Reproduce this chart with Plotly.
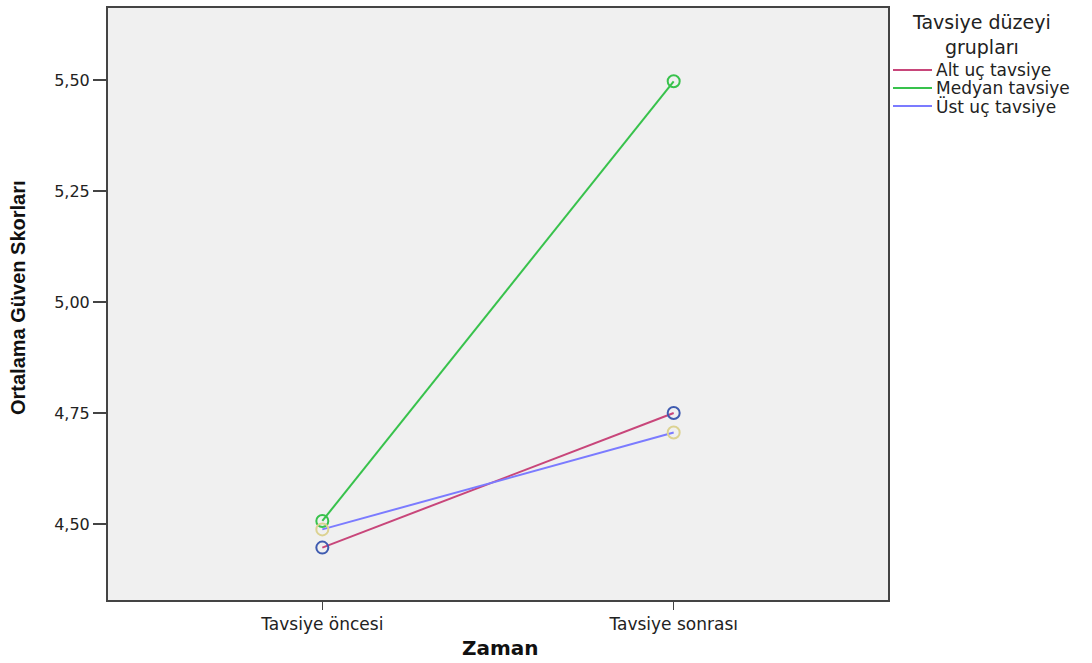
import plotly.graph_objects as go

categories = ["Tavsiye öncesi", "Tavsiye sonrası"]
groups = ["Alt uç tavsiye", "Medyan tavsiye", "Üst uç tavsiye"]
alt_uc = [4.447, 4.750]
medyan = [4.507, 5.497]
ust_uc = [4.488, 4.706]
series = [alt_uc, medyan, ust_uc]
y_ticks = [4.5, 4.75, 5.0, 5.25, 5.5]
y_tick_labels = ["4,50", "4,75", "5,00", "5,25", "5,50"]
legend_title = "Tavsiye düzeyi<br>grupları"

line_colors = ["#c8467a", "#38c24c", "#7b7bff"]
marker_colors = ["#3f5bb0", "#38c24c", "#dcd291"]

TXT = "#222222"
BASE = "DejaVu Sans, Verdana, sans-serif"

fig = go.Figure()
for name, vals, lc in zip(groups, series, line_colors):
    fig.add_trace(go.Scatter(x=categories, y=vals, mode="lines", name=name,
                             line=dict(color=lc, width=2)))
for name, vals, mc in zip(groups, series, marker_colors):
    fig.add_trace(go.Scatter(x=categories, y=vals, mode="markers", name=name,
                             marker=dict(symbol="circle-open", size=12, color=mc,
                                         line=dict(width=2, color=mc))))

# custom legend (SPSS style: line keys, tight rows)
L, R, T, B = 108, 204, 8, 63
W, H = 1092, 663
pw, ph = W - L - R, H - T - B

def px_x(x):
    return (x - L) / pw

def px_y(y):
    return 1 - (y - T) / ph

shapes = []
annotations = [dict(text=legend_title, x=px_x(981), y=px_y(34), xref="paper", yref="paper",
                    xanchor="center", yanchor="middle", showarrow=False, align="center",
                    font=dict(family=BASE, size=19, color=TXT))]
for i, (name, lc) in enumerate(zip(groups, line_colors)):
    yy = 70 + 18 * i
    shapes.append(dict(type="line", xref="paper", yref="paper",
                       x0=px_x(893), x1=px_x(932), y0=px_y(yy), y1=px_y(yy),
                       line=dict(color=lc, width=2)))
    annotations.append(dict(text=name, x=px_x(934), y=px_y(yy), xref="paper", yref="paper",
                            xanchor="left", yanchor="middle", showarrow=False,
                            font=dict(family=BASE, size=17, color=TXT)))

# axis titles
annotations.append(dict(text="<b>Zaman</b>", x=px_x(500), y=px_y(648), xref="paper", yref="paper",
                        xanchor="center", yanchor="middle", showarrow=False,
                        font=dict(family=BASE, size=20, color="#111")))
annotations.append(dict(text="<b>Ortalama Güven Skorları</b>", x=px_x(18), y=px_y(298),
                        xref="paper", yref="paper", textangle=-90,
                        xanchor="center", yanchor="middle", showarrow=False,
                        font=dict(family="Liberation Sans Narrow, Arial Narrow, Liberation Sans, Arial, sans-serif",
                                  size=20, color="#111")))

fig.update_layout(
    width=W, height=H,
    margin=dict(l=L, r=R, t=T, b=B, autoexpand=False),
    paper_bgcolor="white",
    plot_bgcolor="#f0f0f0",
    font=dict(family=BASE, size=16, color=TXT),
    showlegend=False,
    hovermode=False,
    shapes=shapes,
    annotations=annotations,
    xaxis=dict(
        type="category", range=[-0.61, 1.61], automargin=False,
        showgrid=False, zeroline=False,
        showline=True, linecolor="#444", linewidth=2, mirror=True,
        ticks="outside", ticklen=8, tickcolor="#444", tickwidth=1.5,
        tickfont=dict(family=BASE, size=17, color=TXT),
    ),
    yaxis=dict(
        range=[4.329, 5.662], automargin=False,
        tickvals=y_ticks, ticktext=y_tick_labels,
        showgrid=False, zeroline=False,
        showline=True, linecolor="#444", linewidth=2, mirror=True,
        ticks="outside", ticklen=13, tickcolor="#444", tickwidth=1.5,
        tickfont=dict(family=BASE, size=16, color=TXT),
    ),
)

fig.write_html("out.html", config={"displayModeBar": False, "staticPlot": True},
               post_script="document.body.style.margin='0';")
